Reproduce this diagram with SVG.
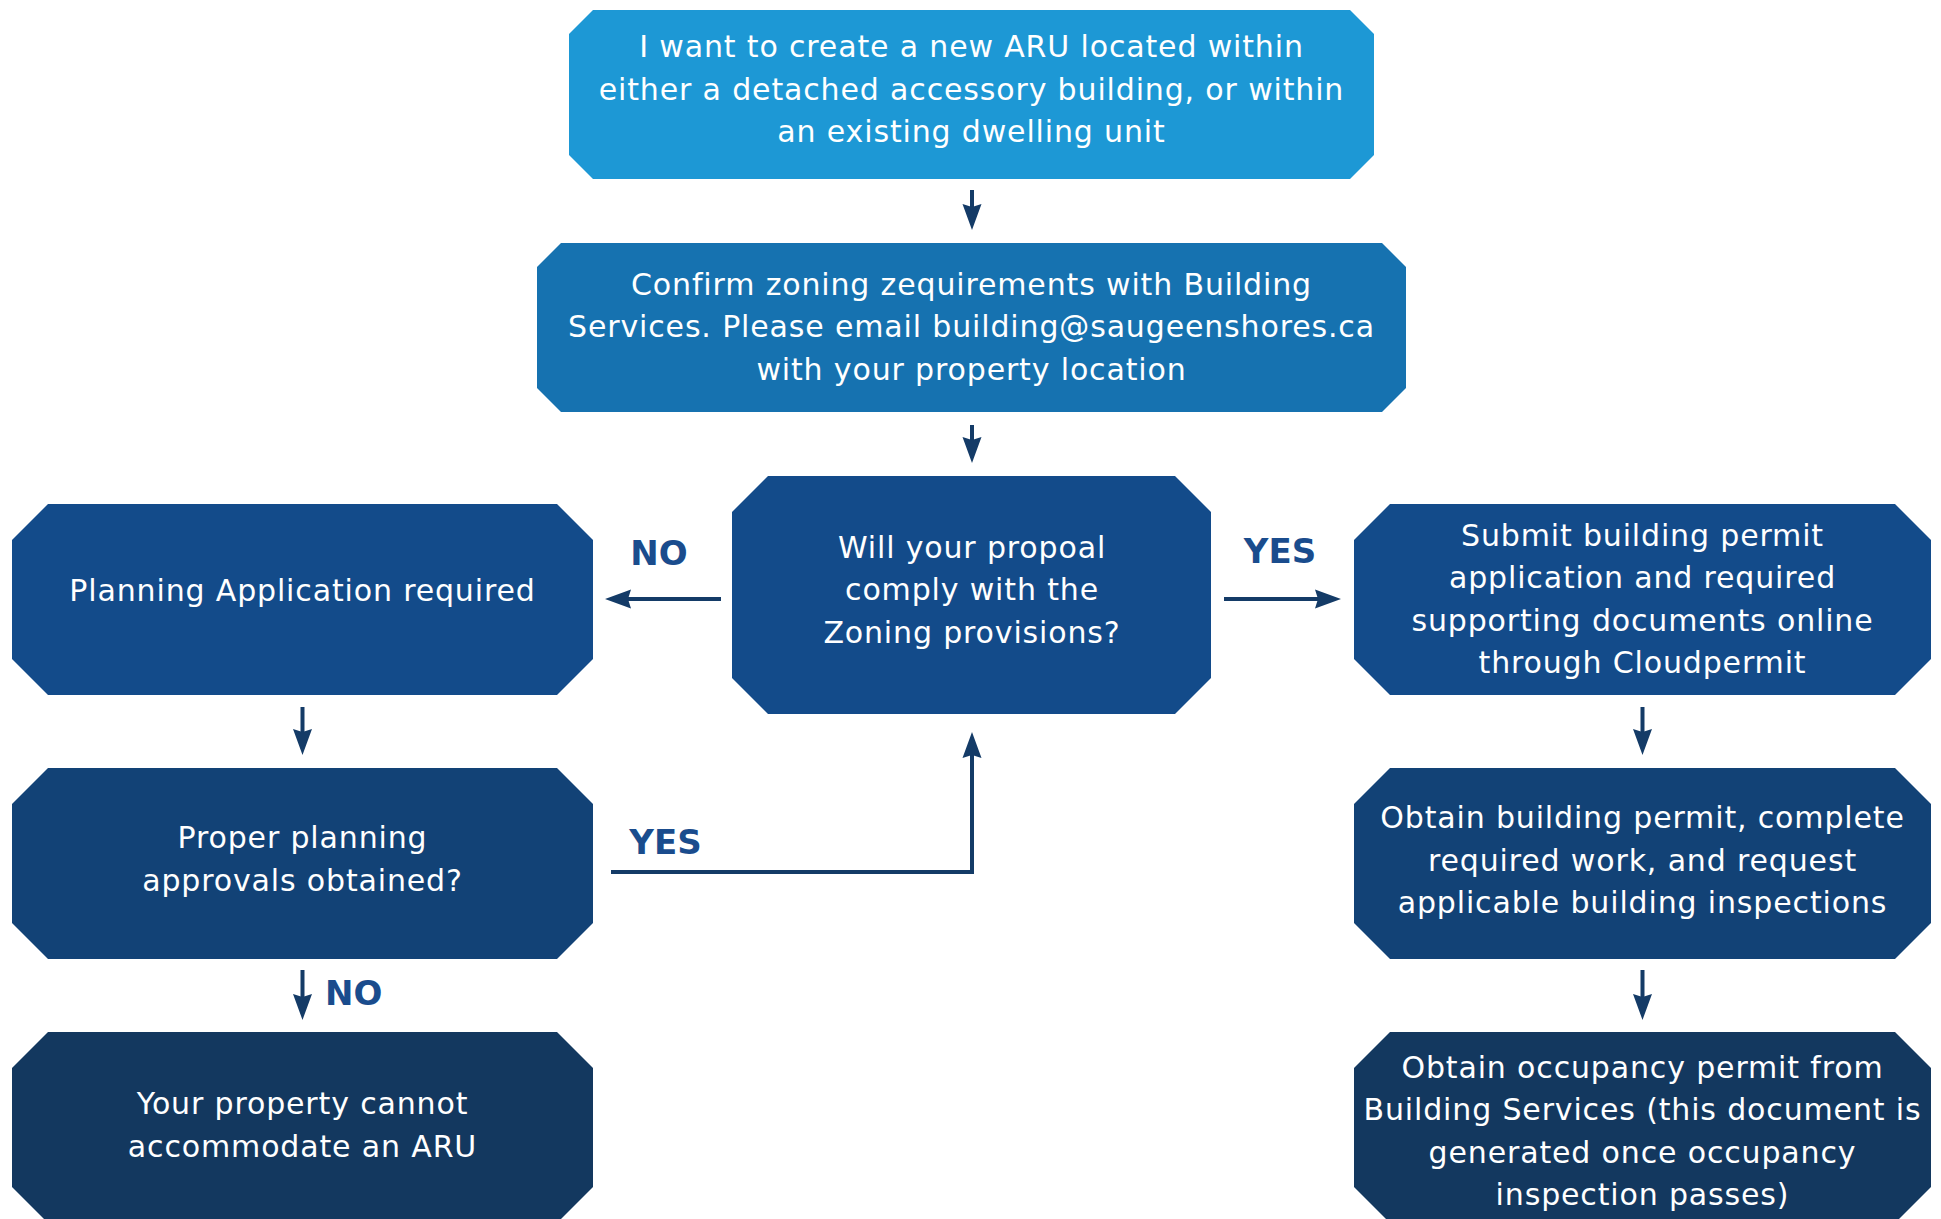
<svg xmlns="http://www.w3.org/2000/svg" width="1941" height="1219" viewBox="0 0 1941 1219">
<style>
.t{font-family:"DejaVu Sans","Liberation Sans",sans-serif;font-size:30px;fill:#ffffff;text-anchor:middle;letter-spacing:0.85px}
.lbl{font-family:"DejaVu Sans","Liberation Sans",sans-serif;font-size:34px;font-weight:bold;fill:#1a4c8d}
.c{fill:none;stroke:#143b67;stroke-width:4}
</style>
<defs>
<marker id="ah" viewBox="0 0 26 20" refX="6" refY="10" markerWidth="26" markerHeight="20" markerUnits="userSpaceOnUse" orient="auto">
<path d="M0,0.5 L26,10 L0,19.5 L3,10 Z" fill="#143b67"/>
</marker>
</defs>
<rect width="1941" height="1219" fill="#ffffff"/>

<g id="n1">
<polygon points="593,10 1350,10 1374,34 1374,155 1350,179 593,179 569,155 569,34" fill="#1d98d5"/>
<text class="t" x="971.5" y="57">I want to create a new ARU located within</text>
<text class="t" x="971.5" y="99.5">either a detached accessory building, or within</text>
<text class="t" x="971.5" y="142">an existing dwelling unit</text>
</g>

<g id="n2">
<polygon points="561,243 1382,243 1406,267 1406,388 1382,412 561,412 537,388 537,267" fill="#1672b0"/>
<text class="t" x="971.5" y="294.5">Confirm zoning zequirements with Building</text>
<text class="t" x="971.5" y="337">Services. Please email building@saugeenshores.ca</text>
<text class="t" x="971.5" y="379.5">with your property location</text>
</g>

<g id="n3">
<polygon points="768,476 1175,476 1211,512 1211,678 1175,714 768,714 732,678 732,512" fill="#134b8a"/>
<text class="t" x="972" y="558">Will your propoal</text>
<text class="t" x="972" y="600">comply with the</text>
<text class="t" x="972" y="642.5">Zoning provisions?</text>
</g>

<g id="l1">
<polygon points="48,504 557,504 593,540 593,659 557,695 48,695 12,659 12,540" fill="#134b8a"/>
<text class="t" x="302.5" y="600.5">Planning Application required</text>
</g>

<g id="r1">
<polygon points="1390,504 1895,504 1931,540 1931,659 1895,695 1390,695 1354,659 1354,540" fill="#134b8a"/>
<text class="t" x="1642.5" y="545.5">Submit building permit</text>
<text class="t" x="1642.5" y="588">application and required</text>
<text class="t" x="1642.5" y="630.5">supporting documents online</text>
<text class="t" x="1642.5" y="673">through Cloudpermit</text>
</g>

<g id="l2">
<polygon points="48,768 557,768 593,804 593,923 557,959 48,959 12,923 12,804" fill="#124276"/>
<text class="t" x="302.5" y="848">Proper planning</text>
<text class="t" x="302.5" y="890.5">approvals obtained?</text>
</g>

<g id="r2">
<polygon points="1390,768 1895,768 1931,804 1931,923 1895,959 1390,959 1354,923 1354,804" fill="#124276"/>
<text class="t" x="1642.5" y="828">Obtain building permit, complete</text>
<text class="t" x="1642.5" y="870.5">required work, and request</text>
<text class="t" x="1642.5" y="913">applicable building inspections</text>
</g>

<g id="l3">
<polygon points="48,1032 557,1032 593,1068 593,1187 557,1223 48,1223 12,1187 12,1068" fill="#13385f"/>
<text class="t" x="302.5" y="1113.5">Your property cannot</text>
<text class="t" x="302.5" y="1156.5">accommodate an ARU</text>
</g>

<g id="r3">
<polygon points="1390,1032 1895,1032 1931,1068 1931,1187 1895,1223 1390,1223 1354,1187 1354,1068" fill="#13385f"/>
<text class="t" x="1642.5" y="1077.5">Obtain occupancy permit from</text>
<text class="t" x="1642.5" y="1120">Building Services (this document is</text>
<text class="t" x="1642.5" y="1162.5">generated once occupancy</text>
<text class="t" x="1642.5" y="1205">inspection passes)</text>
</g>

<g id="connectors">
<path class="c" d="M972,190 V210" marker-end="url(#ah)"/>
<path class="c" d="M972,425 V443" marker-end="url(#ah)"/>
<path class="c" d="M721,599 H625" marker-end="url(#ah)"/>
<path class="c" d="M1224,599 H1321" marker-end="url(#ah)"/>
<path class="c" d="M302.5,707 V735" marker-end="url(#ah)"/>
<path class="c" d="M1642.5,707 V735" marker-end="url(#ah)"/>
<path class="c" d="M302.5,970 V1000" marker-end="url(#ah)"/>
<path class="c" d="M1642.5,970 V1000" marker-end="url(#ah)"/>
<path class="c" d="M611,872 H972 V752" marker-end="url(#ah)"/>
<text class="lbl" x="659" y="565" text-anchor="middle">NO</text>
<text class="lbl" x="1280" y="563" text-anchor="middle">YES</text>
<text class="lbl" x="665.5" y="854" text-anchor="middle">YES</text>
<text class="lbl" x="325" y="1005">NO</text>
</g>
</svg>
